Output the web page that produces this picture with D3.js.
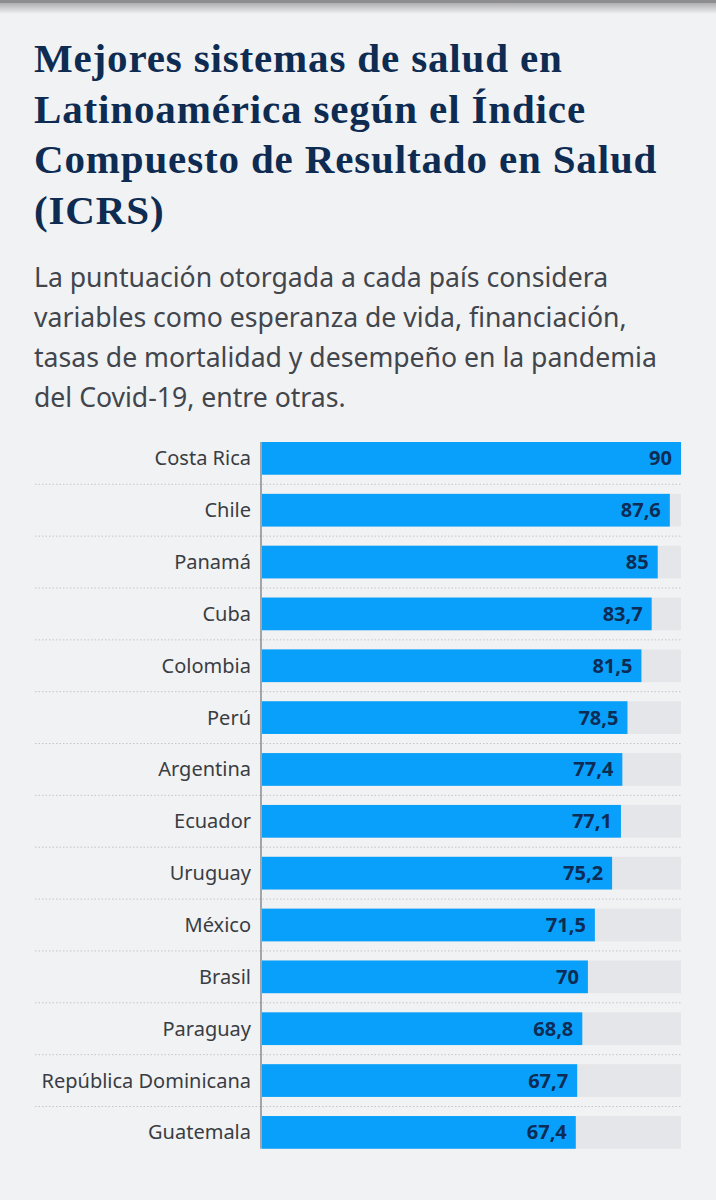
<!DOCTYPE html>
<html>
<head>
<meta charset="utf-8">
<script src="https://cdn.jsdelivr.net/npm/d3@7"></script>
<style>
  html, body { margin: 0; padding: 0; background: #f1f2f4; }
  svg { display: block; }
</style>
</head>
<body>
<script>
const countries = ["Costa Rica","Chile","Panamá","Cuba","Colombia","Perú","Argentina","Ecuador","Uruguay","México","Brasil","Paraguay","República Dominicana","Guatemala"];
const values = [90, 87.6, 85, 83.7, 81.5, 78.5, 77.4, 77.1, 75.2, 71.5, 70, 68.8, 67.7, 67.4];
const titleLines = ["Mejores sistemas de salud en","Latinoamérica según el Índice","Compuesto de Resultado en Salud","(ICRS)"];
const subtitleLines = ["La puntuación otorgada a cada país considera","variables como esperanza de vida, financiación,","tasas de mortalidad y desempeño en la pandemia","del Covid-19, entre otras."];

const W = 716, H = 1200;
const svg = d3.select("body").append("svg").attr("width", W).attr("height", H);

// background
svg.append("rect").attr("width", W).attr("height", H).attr("fill", "#f1f2f4");

// top shadow
const defs = svg.append("defs");
const g = defs.append("linearGradient").attr("id","sh").attr("x1",0).attr("x2",0).attr("y1",0).attr("y2",1);
g.append("stop").attr("offset","0%").attr("stop-color","#9c9c9e");
g.append("stop").attr("offset","100%").attr("stop-color","#f1f2f4");
svg.append("rect").attr("x",0).attr("y",0).attr("width",W).attr("height",14).attr("fill","url(#sh)");
svg.append("rect").attr("x",0).attr("y",0).attr("width",W).attr("height",3).attr("fill","#8e8e90");

// title
svg.append("g").selectAll("text").data(titleLines).join("text")
  .attr("x", 34).attr("y", (d,i) => 72 + i*50.5)
  .attr("font-family", "'Liberation Serif', 'DejaVu Serif', serif")
  .attr("font-weight", "bold").attr("font-size", 41)
  .attr("letter-spacing", 0.85)
  .attr("fill", "#0e2b52").text(d => d);

// subtitle
svg.append("g").selectAll("text").data(subtitleLines).join("text")
  .attr("x", 34).attr("y", (d,i) => 286.5 + i*40.3)
  .attr("font-family", "'Noto Sans', 'Open Sans', sans-serif")
  .attr("font-size", 26.6).attr("fill", "#42464c").text(d => d);

// scales
const x = d3.scaleLinear().domain([0, 90]).range([262, 681]);
const step = 51.85;
const y = d3.scaleBand().domain(countries)
  .range([442 - 0.1846*step, 442 - 0.1846*step + 14*step])
  .paddingInner(0.369).paddingOuter(0.1846);
const bw = y.bandwidth();

const rows = svg.append("g").selectAll("g").data(countries).join("g");

// separators
svg.append("g").selectAll("line").data(countries.slice(0, -1)).join("line")
  .attr("x1", 35).attr("x2", 681)
  .attr("y1", d => y(d) + bw + (step - bw)/2).attr("y2", d => y(d) + bw + (step - bw)/2)
  .attr("stroke", "#c4c6ca").attr("stroke-width", 1).attr("stroke-dasharray", "1.5,2");

// tracks
rows.append("rect").attr("x", x(0)).attr("y", d => y(d)).attr("width", x(90) - x(0)).attr("height", bw)
  .attr("fill", "#e5e6e9");
// bars
rows.append("rect").attr("x", x(0)).attr("y", d => y(d))
  .attr("width", (d,i) => x(values[i]) - x(0)).attr("height", bw).attr("fill", "#08a0fa");

// country labels
rows.append("text").attr("x", 251).attr("y", d => y(d) + bw/2).attr("dy", "0.35em")
  .attr("text-anchor", "end").attr("font-family", "'Noto Sans', 'Open Sans', sans-serif")
  .attr("font-size", 20).attr("fill", "#393d43").text(d => d);

// value labels
const fmt = v => String(v).replace(".", ",");
rows.append("text").attr("x", (d,i) => x(values[i]) - 9).attr("y", d => y(d) + bw/2).attr("dy", "0.35em")
  .attr("text-anchor", "end").attr("font-family", "'Noto Sans', 'Open Sans', sans-serif")
  .attr("font-weight", "bold").attr("font-size", 20).attr("fill", "#0c2c55")
  .text((d,i) => fmt(values[i]));

// axis line
svg.append("line").attr("x1", 261).attr("x2", 261)
  .attr("y1", y(countries[0])).attr("y2", y(countries[countries.length-1]) + bw)
  .attr("stroke", "#8f9297").attr("stroke-width", 1.6);
</script>
</body>
</html>
